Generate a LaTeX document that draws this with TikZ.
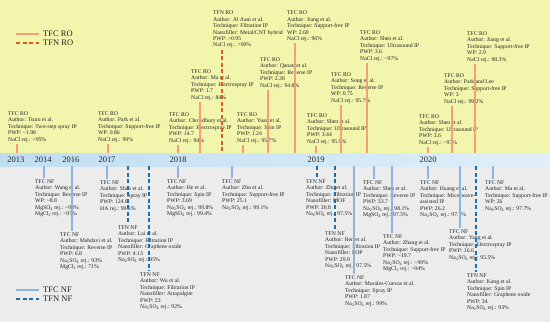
\documentclass[tikz,border=0pt]{standalone}
\usepackage{fontspec}
\setmainfont{Liberation Serif}
\definecolor{bgtop}{RGB}{242,246,172}
\definecolor{bgbot}{RGB}{236,236,236}
\definecolor{bandL}{RGB}{192,222,242}
\definecolor{bandR}{RGB}{224,239,249}
\definecolor{tfcro}{RGB}{246,158,118}
\definecolor{tfnro}{RGB}{228,88,34}
\definecolor{tfcnf}{RGB}{140,180,226}
\definecolor{tfnnf}{RGB}{30,110,170}
\definecolor{txtc}{RGB}{35,35,35}
\newcommand\nasulf{Na\textsubscript{2}SO\textsubscript{4}}
\newcommand\uplink[3]{%
  \path ([xshift=#2pt,yshift=-1.5pt]#1.south west) coordinate (#1-c);
  \draw[#3] (#1-c) -- (#1-c |- band.north);}
\newcommand\downlink[3]{%
  \path ([xshift=#2pt,yshift=2pt]#1.north west) coordinate (#1-c);
  \draw[#3] (band.south -| #1-c) -- (#1-c);}
\tikzset{
 info/.style={font=\fontsize{5.7}{6.4}\selectfont, align=left, inner sep=0pt, anchor=north west, text=txtc},
 lnTFCRO/.style={draw=tfcro, line width=1.3pt},
 lnTFNRO/.style={draw=tfnro, line width=1.4pt, dash pattern=on 4pt off 2.5pt},
 lnTFCNF/.style={draw=tfcnf, line width=1.3pt},
 lnTFNNF/.style={draw=tfnnf, line width=1.4pt, dash pattern=on 4pt off 2.5pt},
 yearlbl/.style={font=\fontsize{8.5}{10}\selectfont, text=txtc, inner sep=0pt},
 leglbl/.style={font=\fontsize{8.5}{10}\selectfont, text=txtc, inner sep=0pt, anchor=west},
}
\begin{document}
\begin{tikzpicture}[x=1pt,y=-1pt]
\useasboundingbox (0,0) rectangle (550,322);
\fill[bgtop] (0,0) rectangle (550,153);
\fill[bgbot] (0,166) rectangle (550,322);
\node[inner sep=0pt, minimum width=550pt, minimum height=13pt, anchor=north west,
      left color=bandL, right color=bandR, draw=none] (band) at (0,153) {};
% years
\node[yearlbl] (y2013) at (16,160) {2013};
\node[yearlbl] (y2014) at (43,160) {2014};
\node[yearlbl] (y2016) at (71,160) {2016};
\node[yearlbl] (y2017) at (107,160) {2017};
\node[yearlbl] (y2018) at (178,160) {2018};
\node[yearlbl] (y2019) at (316,160) {2019};
\node[yearlbl] (y2020) at (428,160) {2020};
% legends
\node[leglbl] (lgA) at (43,34) {TFC RO};
\node[leglbl] (lgB) at (43,43) {TFN RO};
\node[leglbl] (lgC) at (43,290) {TFC NF};
\node[leglbl] (lgD) at (43,299) {TFN NF};
\coordinate (lgAs) at (16,34);
\coordinate (lgBs) at (16,43);
\coordinate (lgCs) at (16,290);
\coordinate (lgDs) at (16,299);
\draw[lnTFCRO] (lgAs) -- ([xshift=-4pt]lgA.west);
\draw[lnTFNRO] (lgBs) -- ([xshift=-4pt]lgB.west);
\draw[lnTFCNF] (lgCs) -- ([xshift=-4pt]lgC.west);
\draw[lnTFNNF] (lgDs) -- ([xshift=-4pt]lgD.west);
% top boxes
\node[info] (tsuru) at (8,111.5) {TFC RO\\Author: Tsuru et al.\\Technique: Two-step spray IP\\PWP: \textasciitilde1.98\\NaCl rej.: >95\%};
\node[info] (park) at (98,111.5) {TFC RO\\Author: Park et al.\\Technique: Support-free IP\\WP: 0.86\\NaCl rej.: 99\%};
\node[info] (ma) at (191,69.5) {TFC RO\\Author: Ma et al.\\Technique: Electrospray IP\\PWP: 1.7\\NaCl rej.: 84\%};
\node[info] (alaani) at (213,11) {TFN RO\\Author: Al Aani et al.\\Technique: Filtration IP\\Nanofiller: Metal/CNT hybrid\\PWP: >0.95\\NaCl rej.: >90\%};
\node[info] (chow) at (169,112.5) {TFC RO\\Author: Chowdhury et al.\\Technique: Electrospray IP\\PWP: 14.7\\NaCl rej.: 94\%};
\node[info] (yuan) at (237,112.5) {TFC RO\\Author: Yuan et al.\\Technique: Spin IP\\PWP: 1.24\\NaCl rej.: 95.7\%};
\node[info] (qanati) at (260,57.5) {TFC RO\\Author: Qanati et al.\\Technique: Reverse IP\\PWP: 2.38\\NaCl rej.: 94.8\%};
\node[info] (jianga) at (287,11) {TFC RO\\Author: Jiang et al.\\Technique: Support-free IP\\WP: 2.69\\NaCl rej.: 96\%};
\node[info] (shena) at (307,113.5) {TFC RO\\Author: Shen et al.\\Technique: Ultrasound IP\\PWP: 3.44\\NaCl rej.: 95.9\%};
\node[info] (song) at (331,72.5) {TFC RO\\Author: Song et al.\\Technique: Reverse IP\\WP: 0.75\\NaCl rej.: 95.7\%};
\node[info] (shenb) at (360,30.5) {TFC RO\\Author: Shen et al.\\Technique: Ultrasound IP\\PWP: 3.6\\NaCl rej.: \textasciitilde97\%};
\node[info] (shenc) at (419,114.5) {TFC RO\\Author: Shen et al.\\Technique: Ultrasound IP\\PWP: 3.6\\NaCl rej.: \textasciitilde97\%};
\node[info] (jiangb) at (467,31.5) {TFC RO\\Author: Jiang et al.\\Technique: Support-free IP\\WP: 2.9\\NaCl rej.: 98.3\%};
\node[info] (parklee) at (444,73.5) {TFC RO\\Author: Park and Lee\\Technique: Support-free IP\\WP: 3\\NaCl rej.: 99.2\%};
% bottom boxes
\node[info] (wang) at (35,179.5) {TFC NF\\Author: Wang et al.\\Technique: Reverse IP\\WP: \textasciitilde8.8\\MgSO\textsubscript{4} rej.: \textasciitilde98\%\\MgCl\textsubscript{2} rej.: \textasciitilde97\%};
\node[info] (mahdavi) at (60,232.5) {TFC NF\\Author: Mahdavi et al.\\Technique: Reverse IP\\PWP: 6.8\\\nasulf{} rej.: 93\%\\MgCl\textsubscript{2} rej.: 71\%};
\node[info] (shao) at (100,180.5) {TFC NF\\Author: Shao et al.\\Technique: Spray IP\\PWP: 124.6\\HA rej.: 99.5\%};
\node[info] (lai) at (118,225.5) {TFN NF\\Author: Lai et al.\\Technique: Filtration IP\\Nanofiller: Graphene oxide\\PWP: 4.13\\\nasulf{} rej.: 95\%};
\node[info] (wu) at (140,272.5) {TFN NF\\Author: Wu et al.\\Technique: Filtration IP\\Nanofiller: Attapulgite\\PWP: 23\\\nasulf{} rej.: 92\%};
\node[info] (he) at (167,179.5) {TFC NF\\Author: He et al.\\Technique: Spin IP\\PWP: 3.69\\\nasulf{} rej.: 99.8\%\\MgSO\textsubscript{4} rej.: 99.4\%};
\node[info] (zhu) at (222,179.5) {TFC NF\\Author: Zhu et al.\\Technique: Support-free IP\\PWP: 25.1\\\nasulf{} rej.: 99.1\%};
\node[info] (zhutfn) at (306,179.5) {TFN NF\\Author: Zhu et al.\\Technique: Filtration IP\\Nanofiller: MOF\\PWP: 30.8\\\nasulf{} rej.: 97.5\%};
\node[info] (ren) at (325,231.5) {TFN NF\\Author: Ren et al.\\Technique: Filtration IP\\Nanofiller: POP\\PWP: 29.9\\\nasulf{} rej.: 97.5\%};
\node[info] (morales) at (345,275.5) {TFC NF\\Author: Morales-Cuevas et al.\\Technique: Spray IP\\PWP: 1.87\\\nasulf{} rej.: 99\%};
\node[info] (shennf) at (363,180.5) {TFC NF\\Author: Shen et al.\\Technique: Reverse IP\\PWP: 33.7\\\nasulf{} rej.: 98.1\%\\MgSO\textsubscript{4} rej.: 97.5\%};
\node[info] (zhang) at (383,234.5) {TFC NF\\Author: Zhang et al.\\Technique: Support-free IP\\PWP: \textasciitilde19.7\\\nasulf{} rej.: \textasciitilde99\%\\MgCl\textsubscript{2} rej.: \textasciitilde94\%};
\node[info] (huang) at (420,180.5) {TFC NF\\Author: Huang et al.\\Technique: Microwave-\\assisted IP\\PWP: 26.2\\\nasulf{} rej.: 97.7\%};
\node[info] (yang) at (449,229.5) {TFC NF\\Author: Yang et al.\\Technique: Electrospray IP\\PWP: 16.6\\\nasulf{} rej.: 95.5\%};
\node[info] (kang) at (467,273.5) {TFN NF\\Author: Kang et al.\\Technique: Spin IP\\Nanofiller: Graphene oxide\\PWP: 34\\\nasulf{} rej.: 93\%};
\node[info] (mane) at (485,180.5) {TFC NF\\Author: Ma et al.\\Technique: Support-free IP\\WP: 26\\\nasulf{} rej.: 97.7\%};
% connectors top
\uplink{tsuru}{9}{lnTFCRO}
\uplink{park}{10}{lnTFCRO}
\uplink{ma}{9}{lnTFCRO}
\uplink{alaani}{9}{lnTFNRO}
\uplink{chow}{9}{lnTFCRO}
\uplink{yuan}{6}{lnTFCRO}
\uplink{qanati}{8}{lnTFCRO}
\uplink{jianga}{8}{lnTFCRO}
\uplink{shena}{9}{lnTFCRO}
\uplink{song}{10}{lnTFCRO}
\uplink{shenb}{7}{lnTFCRO}
\uplink{shenc}{9}{lnTFCRO}
\uplink{jiangb}{8}{lnTFCRO}
\uplink{parklee}{8}{lnTFCRO}
% connectors bottom
\downlink{wang}{9}{lnTFCNF}
\downlink{mahdavi}{12}{lnTFCNF}
\downlink{shao}{7}{lnTFCNF}
\downlink{lai}{10}{lnTFNNF}
\downlink{wu}{9}{lnTFNNF}
\downlink{he}{11}{lnTFCNF}
\downlink{zhu}{10}{lnTFCNF}
\downlink{zhutfn}{11}{lnTFNNF}
\downlink{ren}{10}{lnTFNNF}
\downlink{morales}{9}{lnTFCNF}
\downlink{shennf}{11}{lnTFCNF}
\downlink{zhang}{9}{lnTFCNF}
\downlink{huang}{8}{lnTFCNF}
\downlink{yang}{11}{lnTFCNF}
\downlink{kang}{9}{lnTFNNF}
\downlink{mane}{8}{lnTFCNF}
\end{tikzpicture}
\end{document}
